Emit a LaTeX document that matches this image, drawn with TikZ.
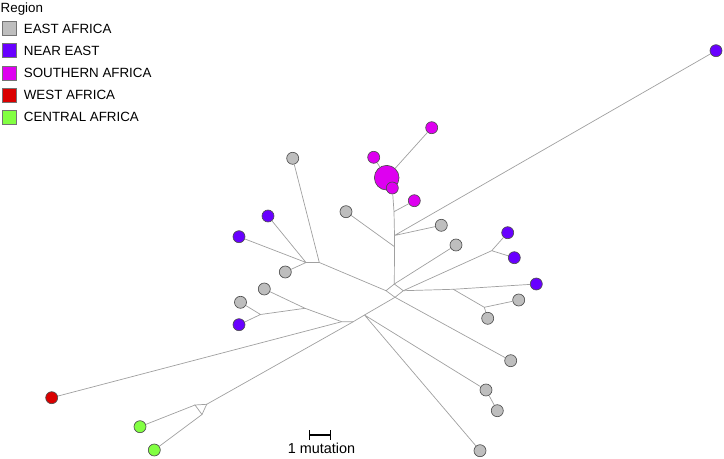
\documentclass[tikz,border=0pt]{standalone}
\usepackage{fontspec}
\setmainfont{Liberation Sans}
\usepackage{tikz}
\usetikzlibrary{positioning}
\usepackage{xcolor}

\definecolor{eastc}{RGB}{190,190,190}
\definecolor{nearc}{RGB}{104,0,255}
\definecolor{southc}{RGB}{222,0,240}
\definecolor{westc}{RGB}{218,0,0}
\definecolor{centc}{RGB}{130,255,66}
\definecolor{edgec}{RGB}{160,160,160}

\begin{document}
\begin{tikzpicture}[
        x=0.03cm, y=-0.03cm,
        font=\fontsize{11.4}{13}\selectfont,
        hap/.style={circle, draw=black!70, line width=0.55pt, minimum size=0.36cm, inner sep=0pt},
        east/.style={hap, fill=eastc},
        near/.style={hap, fill=nearc},
        south/.style={hap, fill=southc},
        west/.style={hap, fill=westc},
        cent/.style={hap, fill=centc},
        key/.style={draw=black!55, line width=0.5pt, minimum size=0.42cm, inner sep=0pt},
        keytxt/.style={right=0.22cm of #1, anchor=west, inner sep=0pt},
        link/.style={draw=edgec, line width=0.6pt}
      ]
        \useasboundingbox (0,0) rectangle (724,459);

        % legend
        \node[anchor=west, inner sep=0pt] (title) at (0.5,9) {Region};
        \node[key, fill=eastc]  (k1) at (9,28.5)  {};
        \node[key, fill=nearc]  (k2) at (9,50.5)  {};
        \node[key, fill=southc] (k3) at (9,73)    {};
        \node[key, fill=westc]  (k4) at (9,95)    {};
        \node[key, fill=centc]  (k5) at (9,117)   {};
        \node[keytxt=k1] {EAST AFRICA};
        \node[keytxt=k2] {NEAR EAST};
        \node[keytxt=k3] {SOUTHERN AFRICA};
        \node[keytxt=k4] {WEST AFRICA};
        \node[keytxt=k5] {CENTRAL AFRICA};

        % median vectors
        \coordinate (m1) at (394,211.7);
        \coordinate (m2) at (394.5,235.5);
        \coordinate (m3) at (394.5,246.7);
        \coordinate (dt) at (394.3,284);
        \coordinate (dl) at (386,290.7);
        \coordinate (dr) at (403.3,290.7);
        \coordinate (db) at (395,297.3);
        \coordinate (l1) at (319.3,262.5);
        \coordinate (l2) at (306,262.5);
        \coordinate (l3) at (305,308.3);
        \coordinate (l4) at (260.5,314.5);
        \coordinate (l5) at (341.7,321.7);
        \coordinate (l6) at (364.5,315);
        \coordinate (l7) at (353.3,321.7);
        \coordinate (p1) at (491.7,250.7);
        \coordinate (p2) at (453.3,289.3);
        \coordinate (p3) at (484.3,307.3);
        \coordinate (g1) at (195,405);
        \coordinate (g2) at (206.7,404.3);
        \coordinate (g3) at (202,414.5);

        % haplotypes
        \node[south, minimum size=0.74cm] (s1) at (386.7,177.7) {};
        \node[south] (s2) at (431.7,127.7) {};
        \node[south] (s3) at (373.7,157.3) {};
        \node[south] (s4) at (392.3,188)   {};
        \node[south] (s5) at (414.3,200.7) {};
        \node[east] (e1)  at (292.7,158.3) {};
        \node[east] (e2)  at (346,211.7)   {};
        \node[east] (e3)  at (441.3,225.3) {};
        \node[east] (e4)  at (456,245)     {};
        \node[east] (e5)  at (285.3,272)   {};
        \node[east] (e6)  at (264.3,289)   {};
        \node[east] (e7)  at (240.5,302.3) {};
        \node[east] (e8)  at (518.7,300)   {};
        \node[east] (e9)  at (487.7,318.3) {};
        \node[east] (e10) at (510.7,360.7) {};
        \node[east] (e11) at (486,390)     {};
        \node[east] (e12) at (497.3,410.7) {};
        \node[east] (e13) at (480,450.7)   {};
        \node[near] (n1) at (716,50.7)   {};
        \node[near] (n2) at (268,216)    {};
        \node[near] (n3) at (239,236.7)  {};
        \node[near] (n4) at (507.7,232.7) {};
        \node[near] (n5) at (514.3,257.7) {};
        \node[near] (n6) at (536.3,284)  {};
        \node[near] (n7) at (239,324.7)  {};
        \node[west] (w1) at (51.7,397.7) {};
        \node[cent] (c1) at (140,426.7)  {};
        \node[cent] (c2) at (154.3,450)  {};

        % links
        \path[link] (s1) -- (s2) (s1) -- (s3);
        \path[link] (s4) -- (m1) -- (m2) -- (m3) -- (dt);
        \path[link] (m1) -- (s5);
        \path[link] (m2) -- (e3) (m2) -- (n1);
        \path[link] (m3) -- (e2);
        \path[link] (dt) -- (dr) -- (db) -- (dl) -- cycle;
        \path[link] (dt) -- (e4);
        \path[link] (dl) -- (l1) -- (e1);
        \path[link] (l1) -- (l2);
        \path[link] (l2) -- (n2) (l2) -- (n3) (l2) -- (e5);
        \path[link] (dr) -- (p1) (p1) -- (n4) (p1) -- (n5);
        \path[link] (dr) -- (p2) -- (n6);
        \path[link] (p2) -- (p3) (p3) -- (e8) (p3) -- (e9);
        \path[link] (db) -- (e10);
        \path[link] (db) -- (l6) -- (l7) -- (l5);
        \path[link] (l6) -- (e11) (l6) -- (e13);
        \path[link] (e11) -- (e12);
        \path[link] (l5) -- (l3) -- (e6);
        \path[link] (l3) -- (l4) (l4) -- (e7) (l4) -- (n7);
        \path[link] (l5) -- (w1);
        \path[link] (l7) -- (g2);
        \path[link] (g1) -- (g2) -- (g3) -- cycle;
        \path[link] (g1) -- (c1) (g3) -- (c2);

        % scale
        \coordinate (sb1) at (309.7,435);
        \coordinate (sb2) at (330,435);
        \draw[line width=1.6pt] (sb1) -- (sb2);
        \draw[line width=0.6pt] (sb1) ++(0,-4.5) -- ++(0,9);
        \draw[line width=0.6pt] (sb2) ++(0,-4.5) -- ++(0,9);
        \node[inner sep=0pt, font=\fontsize{12.3}{14}\selectfont] (sbl) at (321.5,448) {1 mutation};
    \end{tikzpicture}
\end{document}
